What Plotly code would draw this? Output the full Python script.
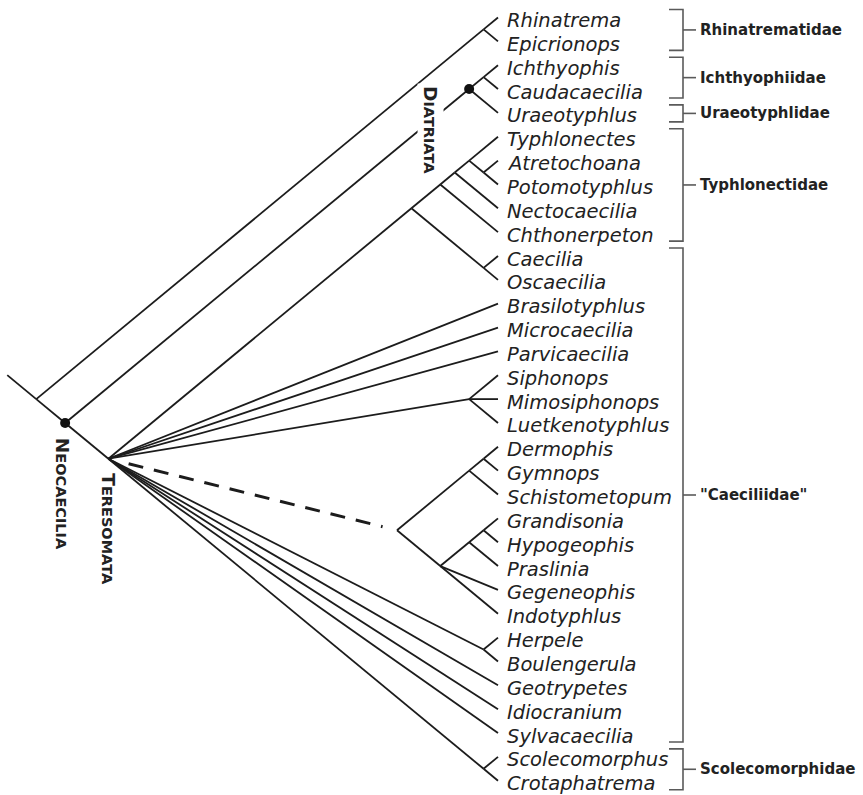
import plotly.graph_objects as go

# ---------------- data ----------------
taxa = [
    "Rhinatrema", "Epicrionops", "Ichthyophis", "Caudacaecilia", "Uraeotyphlus",
    "Typhlonectes", "Atretochoana", "Potomotyphlus", "Nectocaecilia", "Chthonerpeton",
    "Caecilia", "Oscaecilia", "Brasilotyphlus", "Microcaecilia", "Parvicaecilia",
    "Siphonops", "Mimosiphonops", "Luetkenotyphlus", "Dermophis", "Gymnops",
    "Schistometopum", "Grandisonia", "Hypogeophis", "Praslinia", "Gegeneophis",
    "Indotyphlus", "Herpele", "Boulengerula", "Geotrypetes", "Idiocranium",
    "Sylvacaecilia", "Scolecomorphus", "Crotaphatrema",
]

families = ["Rhinatrematidae", "Ichthyophiidae", "Uraeotyphlidae",
            "Typhlonectidae", "\"Caeciliidae\"", "Scolecomorphidae"]
family_first = ["Rhinatrema", "Ichthyophis", "Uraeotyphlus",
                "Typhlonectes", "Caecilia", "Scolecomorphus"]
family_last = ["Epicrionops", "Caudacaecilia", "Uraeotyphlus",
               "Chthonerpeton", "Sylvacaecilia", "Crotaphatrema"]

# tree topology (nested tuples of taxon names)
typhlonectid_clade = (((("Typhlonectes", ("Atretochoana", "Potomotyphlus")),
                        "Nectocaecilia"), "Chthonerpeton"),
                      ("Caecilia", "Oscaecilia"))
siphonops_clade = ("Siphonops", "Mimosiphonops", "Luetkenotyphlus")
caeciliid_clade = ((("Dermophis", "Gymnops"), "Schistometopum"),
                   ((("Grandisonia", "Hypogeophis"), "Praslinia"),
                    "Gegeneophis", "Indotyphlus"))
teresomata = (typhlonectid_clade, "Brasilotyphlus", "Microcaecilia",
              "Parvicaecilia", siphonops_clade, caeciliid_clade,
              ("Herpele", "Boulengerula"), "Geotrypetes", "Idiocranium",
              "Sylvacaecilia", ("Scolecomorphus", "Crotaphatrema"))
diatriata = (("Ichthyophis", "Caudacaecilia"), "Uraeotyphlus")
neocaecilia = (diatriata, teresomata)
tree = (("Rhinatrema", "Epicrionops"), neocaecilia)

dashed_clades = [caeciliid_clade]
dotted_clades = [neocaecilia, diatriata]

# ---------------- layout constants ----------------
W, H = 863, 795
ROW0, ROW = 20.5, 23.85       # label centre of first taxon, row spacing (px)
TIP_DY = -3.0                 # branch tips sit slightly above label centre
X_TIP = 498.0
K = 1.21                      # horizontal run per vertical px in the slanted tree
LINE = "#1c1c1c"
TXT = "#222222"
GREY = "#5a5a5a"


def row_y(name):
    return ROW0 + ROW * taxa.index(name)


def tips(n):
    if isinstance(n, str):
        return [n]
    out = []
    for c in n:
        out += tips(c)
    return out


def pos(n):
    if isinstance(n, str):
        return X_TIP, row_y(n) + TIP_DY
    t = tips(n)
    y1 = row_y(t[0]) + TIP_DY
    y2 = row_y(t[-1]) + TIP_DY
    return X_TIP - K * (y2 - y1) / 2.0, (y1 + y2) / 2.0


solid_x, solid_y, dash_x, dash_y = [], [], [], []


def walk(n):
    if isinstance(n, str):
        return
    px, py = pos(n)
    for c in n:
        cx, cy = pos(c)
        if any(c is d for d in dashed_clades):
            dx, dy = cx - px, cy - py
            dash_x.extend([px + 0.07 * dx, cx - 0.05 * dx, None])
            dash_y.extend([py + 0.07 * dy, cy - 0.05 * dy, None])
        else:
            solid_x.extend([px, cx, None])
            solid_y.extend([py, cy, None])
        walk(c)


walk(tree)

# stem below the root, continuing the lower edge of the tree backwards
rx, ry = pos(tree)
lx, ly = pos(taxa[-1])
slope = (ly - ry) / (lx - rx)
stem_dx = 29
solid_x.extend([rx - stem_dx, rx, None])
solid_y.extend([ry - stem_dx * slope, ry, None])

fig = go.Figure()
fig.add_trace(go.Scatter(x=solid_x, y=solid_y, mode="lines",
                         line=dict(color=LINE, width=1.8), hoverinfo="skip"))
fig.add_trace(go.Scatter(x=dash_x, y=dash_y, mode="lines",
                         line=dict(color=LINE, width=3, dash="15px,11px"),
                         hoverinfo="skip"))
dots = [pos(d) for d in dotted_clades]
fig.add_trace(go.Scatter(x=[d[0] for d in dots], y=[d[1] for d in dots],
                         mode="markers", marker=dict(color="#111", size=10),
                         hoverinfo="skip"))

annotations = []
for name in taxa:
    annotations.append(dict(x=X_TIP + 7, y=row_y(name), text="<i>%s</i>" % name,
                            xanchor="left", yanchor="middle", showarrow=False,
                            font=dict(family="DejaVu Sans", size=19.5, color=TXT)))

# family brackets
BX, BL, BR, LX = 683, 669, 696, 698
bx, by = [], []
for fam, a, b in zip(families, family_first, family_last):
    top = row_y(a) - 11
    bot = row_y(b) + 6
    mid = (top + bot) / 2.0
    bx += [BL, BX, BX, BL, None, BX, BR, None]
    by += [top, top, bot, bot, None, mid, mid, None]
    annotations.append(dict(x=LX, y=mid, text="<b>%s</b>" % fam, xanchor="left",
                            yanchor="middle", showarrow=False,
                            font=dict(family="DejaVu Sans", size=15, color=TXT)))
fig.add_trace(go.Scatter(x=bx, y=by, mode="lines",
                         line=dict(color=GREY, width=1.6), hoverinfo="skip"))


def small_caps(word):
    return "<b>%s<span style='font-size:14.5px'>%s</span></b>" % (word[0], word[1:].upper())


# clade names (rotated small caps)
nx, ny = pos(neocaecilia)
tx, ty = pos(teresomata)
dx_, dy_ = pos(diatriata)
annotations.append(dict(x=nx - 3, y=ny + 13, text=small_caps("Neocaecilia"),
                        textangle=90, xanchor="center", yanchor="top",
                        showarrow=False,
                        font=dict(family="DejaVu Sans", size=18.5, color=TXT)))
annotations.append(dict(x=tx, y=ty + 13, text=small_caps("Teresomata"),
                        textangle=90, xanchor="center", yanchor="top",
                        showarrow=False,
                        font=dict(family="DejaVu Sans", size=18.5, color=TXT)))
annotations.append(dict(x=431, y=dy_ - 6, text=small_caps("Diatriata"),
                        textangle=90, xanchor="center", yanchor="top",
                        showarrow=False, bgcolor="white", borderpad=2,
                        font=dict(family="DejaVu Sans", size=18.5, color=TXT)))

fig.update_layout(
    width=W, height=H, margin=dict(l=0, r=0, t=0, b=0),
    paper_bgcolor="white", plot_bgcolor="white", showlegend=False,
    xaxis=dict(range=[0, W], visible=False, fixedrange=True),
    yaxis=dict(range=[H, 0], visible=False, fixedrange=True),
    annotations=annotations,
)
fig.write_html("out.html", config={"displayModeBar": False},
               post_script="document.body.style.margin='0';"
                           "document.body.style.overflow='hidden';")
